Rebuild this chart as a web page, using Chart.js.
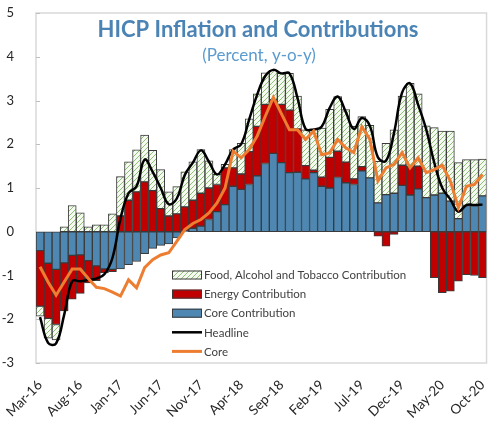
<!DOCTYPE html>
<html>
<head>
<meta charset="utf-8">
<script src="https://cdn.jsdelivr.net/npm/chart.js@4.4.1/dist/chart.umd.min.js"></script>
<style>
  html, body { margin: 0; padding: 0; background: #fff; overflow: hidden; }
  #wrap { position: relative; width: 500px; height: 423px; }
</style>
</head>
<body>
<div id="wrap"><canvas id="hicpChart"></canvas></div>
<script>
// Monthly categories, Mar-16 .. Oct-20
const months = [
  'Mar-16','Apr-16','May-16','Jun-16','Jul-16','Aug-16','Sep-16','Oct-16','Nov-16','Dec-16',
  'Jan-17','Feb-17','Mar-17','Apr-17','May-17','Jun-17','Jul-17','Aug-17','Sep-17','Oct-17','Nov-17','Dec-17',
  'Jan-18','Feb-18','Mar-18','Apr-18','May-18','Jun-18','Jul-18','Aug-18','Sep-18','Oct-18','Nov-18','Dec-18',
  'Jan-19','Feb-19','Mar-19','Apr-19','May-19','Jun-19','Jul-19','Aug-19','Sep-19','Oct-19','Nov-19','Dec-19',
  'Jan-20','Feb-20','Mar-20','Apr-20','May-20','Jun-20','Jul-20','Aug-20','Sep-20','Oct-20'
];

// contributions, percentage points
const coreContribution = [
  -0.43,-0.72,-0.86,-0.71,-0.54,-0.53,-0.66,-0.78,-0.85,-0.86,
  -0.85,-0.75,-0.68,-0.50,-0.38,-0.31,-0.28,-0.14,0.02,0.08,
  0.13,0.28,0.46,0.62,1.04,0.97,1.08,1.28,1.56,1.79,
  1.58,1.35,1.36,1.21,1.35,1.04,1.00,1.24,1.12,1.08,
  1.39,1.23,0.66,0.85,0.88,1.06,0.84,0.98,0.78,0.84,
  0.88,0.70,0.30,0.60,0.60,0.82
];
const energyContribution = [
  -1.27,-1.26,-1.26,-1.10,-1.00,-0.88,-0.51,-0.34,-0.09,-0.05,
  0.36,0.72,0.91,1.14,0.94,0.53,0.36,0.41,0.55,0.64,
  0.75,0.72,0.62,0.84,0.42,0.35,0.75,1.13,1.35,1.23,
  1.33,1.43,0.99,0.30,0.06,0.21,0.70,0.60,0.47,0.13,
  0.10,0.00,-0.10,-0.33,-0.06,0.46,0.65,0.52,0.00,-1.05,
  -1.39,-1.36,-1.13,-0.98,-1.00,-1.05
];
const foodContribution = [
  -0.23,-0.45,-0.35,0.11,0.60,0.43,0.11,0.16,0.16,0.41,
  0.90,0.88,0.96,1.07,0.92,0.89,0.55,0.62,0.80,0.88,
  1.00,0.62,0.23,0.08,0.42,0.70,0.75,0.74,0.72,0.67,
  0.71,0.84,0.75,0.82,0.93,1.12,1.10,1.25,1.20,1.20,
  1.14,1.20,0.95,1.17,1.45,1.58,1.90,1.65,1.64,1.54,
  1.42,1.60,1.28,1.05,1.05,0.84
];

// y-o-y rates, percent
const headline = [
  -1.95,-2.54,-2.55,-1.90,-1.13,-1.13,-1.10,-1.07,-0.97,-0.60,
  0.30,0.88,1.04,1.65,1.37,1.00,0.63,0.76,1.30,1.58,
  1.86,1.60,1.31,1.54,1.88,2.00,2.57,3.14,3.56,3.70,
  3.62,3.62,3.06,2.35,2.34,2.40,2.83,3.09,2.74,2.35,
  2.60,2.42,1.70,1.62,2.26,3.18,3.39,2.90,2.34,1.58,
  1.00,0.74,0.46,0.61,0.61,0.62
];
const coreInflation = [
  -0.80,-1.15,-1.45,-1.15,-0.85,-0.85,-1.07,-1.27,-1.30,-1.38,
  -1.47,-1.10,-1.28,-0.82,-0.64,-0.53,-0.48,-0.22,0.05,0.19,
  0.28,0.43,0.66,1.00,1.84,1.69,1.88,2.19,2.64,3.07,
  2.70,2.33,2.33,2.11,2.30,1.76,1.80,2.11,1.92,1.81,
  2.40,2.11,1.16,1.46,1.54,1.81,1.46,1.69,1.35,1.42,
  1.52,1.16,0.55,1.04,1.08,1.31
];

const yTicks = [-3, -2, -1, 0, 1, 2, 3, 4, 5];
const tickEvery = 5; // label every 5th month

const titleText = 'HICP Inflation and Contributions';
const subtitleText = '(Percent, y-o-y)';

const FONT = 'Lato, "Open Sans", sans-serif';

// light green diagonal hatch for the food bars
function makeHatch() {
  const c = document.createElement('canvas');
  c.width = 5; c.height = 5;
  const g = c.getContext('2d');
  g.fillStyle = '#f5faf0';
  g.fillRect(0, 0, 5, 5);
  g.strokeStyle = '#8fbf78';
  g.lineWidth = 1;
  g.beginPath();
  g.moveTo(0, 5); g.lineTo(5, 0);
  g.moveTo(-1, 1); g.lineTo(1, -1);
  g.moveTo(4, 6); g.lineTo(6, 4);
  g.stroke();
  return g.createPattern(c, 'repeat');
}

const canvas = document.getElementById('hicpChart');
const ctx = canvas.getContext('2d');
const hatch = makeHatch();

const barCommon = {
  type: 'bar',
  order: 2,
  stack: 'contrib',
  borderColor: '#3a3a3a',
  borderWidth: 1,
  borderSkipped: false,
  barPercentage: 1,
  categoryPercentage: 1
};

// plot frame + small inward ticks on the y axis
const framePlugin = {
  id: 'frame',
  beforeDatasetsDraw(chart) {
    const a = chart.chartArea;
    const c = chart.ctx;
    c.save();
    c.strokeStyle = '#d9d9d9';
    c.lineWidth = 1.5;
    c.strokeRect(a.left, a.top, a.right - a.left, a.bottom - a.top);
    c.strokeStyle = '#bfbfbf';
    c.lineWidth = 1;
    yTicks.forEach(v => {
      const y = Math.round(chart.scales.y.getPixelForValue(v)) + 0.5;
      c.beginPath();
      c.moveTo(a.left, y);
      c.lineTo(a.left + 4, y);
      c.stroke();
    });
    c.restore();
  }
};

// title inside the plot area
const titlePlugin = {
  id: 'innerTitle',
  afterDraw(chart) {
    const c = chart.ctx;
    c.save();
    c.textAlign = 'center';
    c.textBaseline = 'middle';
    c.fillStyle = '#4a83b4';
    c.font = 'bold 22px ' + FONT;
    c.fillText(titleText, 258, 30);
    c.fillStyle = '#5b9bd0';
    c.font = '17px ' + FONT;
    c.fillText(subtitleText, 259, 56);
    c.restore();
  }
};

// legend drawn inside the plot, in the original order
const legendOrder = [2, 1, 0, 3, 4];
const legendPlugin = {
  id: 'innerLegend',
  afterDraw(chart) {
    const c = chart.ctx;
    const x0 = 172, y0 = 275, rowH = 19.1, sw = 30, sh = 9;
    c.save();
    c.font = '11.5px ' + FONT;
    c.textBaseline = 'middle';
    legendOrder.forEach((di, row) => {
      const ds = chart.data.datasets[di];
      const yc = y0 + row * rowH;
      if (ds.type === 'bar') {
        c.fillStyle = ds.backgroundColor;
        c.fillRect(x0, yc - sh / 2, sw, sh);
        c.strokeStyle = ds.borderColor;
        c.lineWidth = 1;
        c.strokeRect(x0 + 0.5, yc - sh / 2 + 0.5, sw - 1, sh - 1);
      } else {
        c.strokeStyle = ds.borderColor;
        c.lineWidth = ds.borderWidth;
        c.beginPath();
        c.moveTo(x0, yc);
        c.lineTo(x0 + sw, yc);
        c.stroke();
      }
      c.fillStyle = '#404040';
      c.fillText(ds.label, x0 + sw + 2, yc + 0.5);
    });
    c.restore();
  }
};

new Chart(ctx, {
  data: {
    labels: months,
    datasets: [
      Object.assign({}, barCommon, {
        label: 'Core Contribution',
        data: coreContribution,
        backgroundColor: '#4d87b2'
      }),
      Object.assign({}, barCommon, {
        label: 'Energy Contribution',
        data: energyContribution,
        backgroundColor: '#c00000'
      }),
      Object.assign({}, barCommon, {
        label: 'Food, Alcohol and Tobacco Contribution',
        data: foodContribution,
        backgroundColor: hatch
      }),
      {
        type: 'line',
        label: 'Headline',
        order: 1,
        stack: 'headline',
        data: headline,
        borderColor: '#000000',
        borderWidth: 2.5,
        pointRadius: 0,
        tension: 0.4,
        fill: false
      },
      {
        type: 'line',
        label: 'Core',
        order: 0,
        stack: 'core',
        data: coreInflation,
        borderColor: '#ed7d31',
        borderWidth: 3,
        pointRadius: 0,
        tension: 0,
        fill: false
      }
    ]
  },
  options: {
    responsive: true,
    maintainAspectRatio: false,
    animation: false,
    layout: { padding: { top: 13, right: 2, left: 0, bottom: 0 } },
    plugins: {
      legend: { display: false },
      tooltip: { enabled: false }
    },
    scales: {
      x: {
        stacked: true,
        grid: { display: false },
        border: { display: false },
        afterFit: s => { s.height = 60; },
        ticks: {
          autoSkip: false,
          maxRotation: 45,
          minRotation: 45,
          padding: 6,
          color: '#262626',
          font: { size: 13.5, family: FONT },
          callback: (val, i) => (i % tickEvery === 0 ? months[i] : '')
        }
      },
      y: {
        stacked: true,
        min: yTicks[0],
        max: yTicks[yTicks.length - 1],
        grid: { display: false },
        border: { display: false },
        afterFit: s => {
          s.width = 36;
          // labels sit outside the frame; don't let them push the plot down
          s.paddingTop = 0;
          s.paddingBottom = 0;
        },
        ticks: {
          stepSize: 1,
          padding: 14,
          color: '#262626',
          font: { size: 13, family: FONT }
        }
      }
    }
  },
  plugins: [framePlugin, titlePlugin, legendPlugin]
});
</script>
</body>
</html>
